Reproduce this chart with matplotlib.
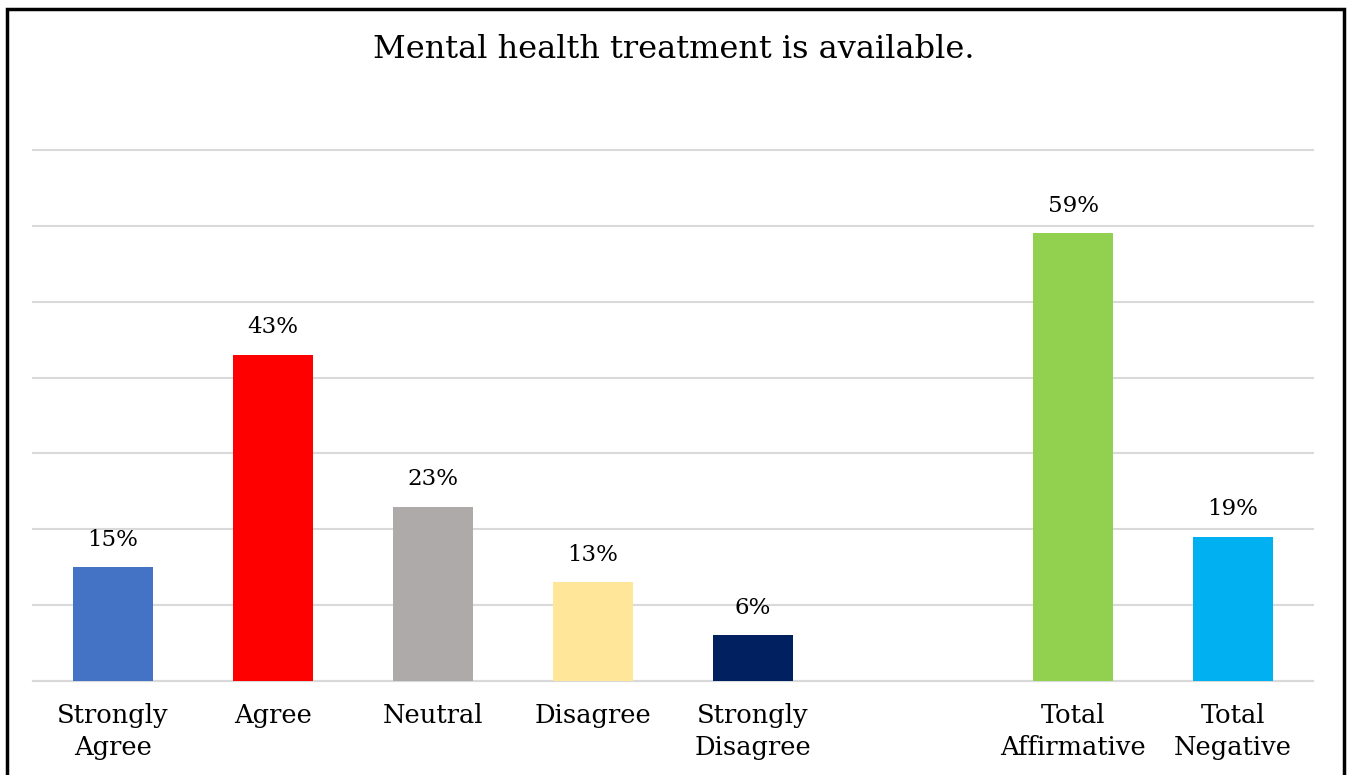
import numpy as np
import matplotlib.pyplot as plt
from matplotlib.patches import Rectangle

# データ
categories = ["Strongly\nAgree", "Agree", "Neutral", "Disagree", "Strongly\nDisagree",
              "Total\nAffirmative", "Total\nNegative"]
values = [15, 43, 23, 13, 6, 59, 19]
colors = ["#4472C4", "#FF0000", "#AEAAAA", "#FFE699", "#002060", "#92D050", "#00B0F0"]
title = "Mental health treatment is available."

plt.rcParams['font.family'] = ['DejaVu Serif']

fig = plt.figure(figsize=(13.48, 7.75), dpi=100)
ax = fig.add_axes([33 / 1348, 94 / 775, 1280 / 1348, 531 / 775])

# 合計の前に1つ空きを入れる
x = np.arange(len(values)) + (np.arange(len(values)) >= 5)
bars = ax.bar(x, values, width=0.5, color=colors, zorder=3)

for b, v in zip(bars, values):
    ax.annotate(f"{v}%", (b.get_x() + b.get_width() / 2, v), xytext=(0, 12),
                textcoords="offset points", ha="center", va="bottom", fontsize=16.5)

ax.set_xlim(-0.5, 7.5)
ax.set_ylim(0, 70)
ax.set_yticks(np.arange(0, 71, 10))
ax.yaxis.grid(True, color="#D9D9D9", lw=1.5, zorder=0)
for gl in ax.get_ygridlines():
    gl.set_clip_on(False)
ax.set_yticklabels([])
ax.tick_params(axis="y", length=0)
ax.set_xticks(x)
ax.set_xticklabels(categories, fontsize=18.5, linespacing=1.35)
ax.tick_params(axis="x", length=0, pad=16)
for s in ["top", "right", "left"]:
    ax.spines[s].set_visible(False)
ax.spines["bottom"].set_color("#D9D9D9")
ax.spines["bottom"].set_linewidth(1.5)

fig.text(0.5, 1 - 50 / 775, title, ha="center", va="center", fontsize=23)

# 外枠
fig.patches.append(Rectangle((7 / 1348, -0.05), 1337 / 1348, 1.05 - 9 / 775,
                             transform=fig.transFigure, fill=False, lw=2.5,
                             edgecolor="black"))

fig.savefig("out.png", dpi=100)
